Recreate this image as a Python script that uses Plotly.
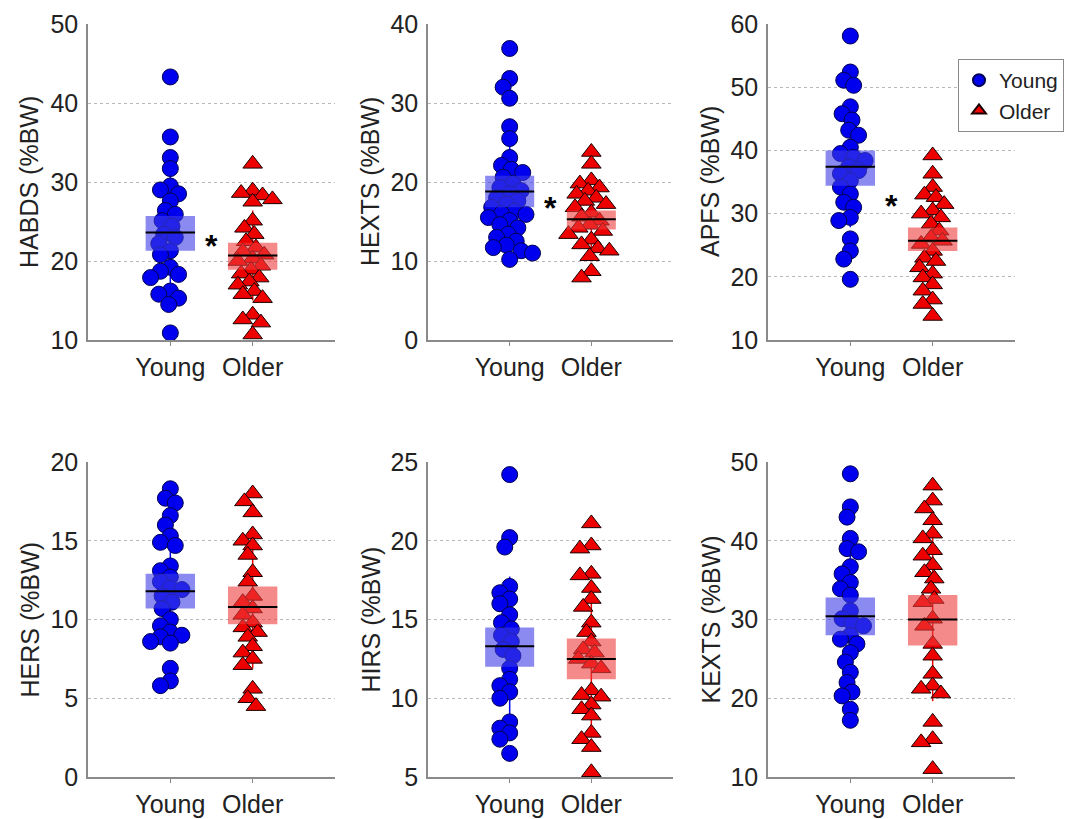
import numpy as np
import plotly.graph_objects as go

# ---------------- data ----------------
categories = ["Young", "Older"]
panel_titles = ["HABDS (%BW)", "HEXTS (%BW)", "APFS (%BW)", "HERS (%BW)", "HIRS (%BW)", "KEXTS (%BW)"]
y_ranges = [[10, 50], [0, 40], [10, 60], [0, 20], [5, 25], [10, 50]]
y_dticks = [10, 10, 10, 5, 5, 10]

habds_young = [43.3, 35.7, 33.1, 31.7, 29.5, 29.0, 28.5, 27.6, 26.4, 25.9, 25.1, 24.4, 23.4, 23.0,
               22.2, 21.3, 20.8, 19.2, 18.7, 18.3, 17.9, 16.2, 15.8, 15.3, 14.5, 10.9]
habds_older = [32.3, 28.9, 28.6, 28.3, 27.8, 27.5, 25.1, 24.2, 23.4, 22.5, 21.7, 21.2, 20.8, 20.3,
               20.0, 19.4, 18.9, 18.4, 17.9, 17.4, 17.0, 16.2, 15.8, 15.3, 13.2, 12.6, 12.2, 10.7]
hexts_young = [36.9, 33.1, 32.0, 30.6, 27.0, 25.5, 23.1, 22.1, 21.6, 21.2, 20.6, 19.8, 19.3, 18.9,
               18.5, 18.0, 17.6, 17.2, 16.8, 16.3, 16.0, 15.9, 15.5, 15.1, 14.6, 14.2, 13.4, 13.0,
               12.5, 12.0, 11.7, 11.3, 11.0, 10.2]
hexts_older = [23.8, 22.3, 20.2, 19.8, 19.3, 18.9, 18.5, 18.0, 17.6, 17.2, 16.8, 16.1, 15.6, 15.1,
               14.6, 14.2, 13.8, 13.4, 12.7, 12.1, 11.6, 11.3, 10.6, 8.7, 7.9]
apfs_young = [58.1, 52.4, 51.1, 50.3, 46.9, 45.8, 44.8, 43.2, 42.4, 40.5, 39.5, 38.9, 38.4, 37.4,
              36.8, 36.3, 35.2, 34.2, 33.1, 31.8, 31.0, 29.4, 28.9, 26.0, 24.1, 22.8, 19.6]
apfs_older = [39.2, 36.3, 34.2, 33.0, 32.6, 31.5, 30.5, 30.0, 29.4, 28.4, 27.3, 26.2, 25.7, 25.2,
              24.1, 23.0, 22.5, 21.5, 20.5, 19.9, 18.8, 17.8, 16.4, 15.7, 13.8]
hers_young = [18.3, 17.7, 17.4, 16.6, 16.0, 15.3, 14.9, 14.7, 13.4, 13.1, 12.7, 12.4, 12.0, 11.9,
              11.5, 11.1, 10.7, 10.0, 9.6, 9.2, 9.0, 8.9, 8.6, 8.5, 6.9, 6.1, 5.8]
hers_older = [18.0, 17.5, 16.8, 15.4, 15.0, 14.7, 14.1, 13.0, 12.4, 11.5, 11.1, 10.7, 10.3, 9.8,
              9.5, 9.2, 8.9, 8.3, 7.9, 7.5, 7.1, 5.6, 5.0, 4.5]
hirs_young = [24.2, 20.2, 19.6, 17.1, 16.7, 16.3, 16.0, 15.3, 14.8, 14.4, 14.0, 13.6, 13.1, 12.7,
              11.9, 11.2, 10.8, 10.4, 10.0, 8.5, 8.1, 7.8, 7.4, 6.5]
hirs_older = [21.1, 19.7, 19.5, 17.9, 17.8, 17.0, 16.3, 15.8, 14.8, 14.2, 13.6, 13.1, 12.9, 12.5,
              12.2, 11.9, 10.5, 10.2, 10.1, 9.6, 9.3, 8.9, 7.8, 7.4, 6.9, 5.3]
kexts_young = [48.5, 44.3, 43.0, 40.3, 39.0, 38.6, 36.7, 35.8, 34.7, 33.9, 33.1, 31.1, 30.1, 29.6,
               29.2, 28.0, 27.5, 26.9, 25.8, 24.6, 23.3, 22.0, 20.8, 20.3, 18.6, 17.2]
kexts_older = [47.0, 45.1, 44.1, 42.6, 40.9, 40.3, 38.8, 38.1, 36.9, 36.0, 35.2, 33.9, 32.6, 32.2,
               30.1, 29.2, 26.9, 25.4, 23.1, 21.6, 21.2, 20.6, 17.0, 14.8, 14.4, 11.0]

# group summary: mean, lower and upper edge of shaded box
young_mean = [23.6, 18.8, 37.4, 11.8, 13.3, 30.4]
young_low = [21.3, 16.8, 34.4, 10.7, 12.0, 28.0]
young_high = [25.7, 20.8, 40.0, 12.9, 14.5, 32.8]
older_mean = [20.7, 15.3, 25.7, 10.8, 12.5, 30.0]
older_low = [18.9, 14.0, 24.1, 9.7, 11.2, 26.7]
older_high = [22.3, 16.4, 27.8, 12.1, 13.8, 33.1]
significant = [True, True, True, False, False, False]
star_level = [22.1, 17.0, 31.5, None, None, None]

young_data = [habds_young, hexts_young, apfs_young, hers_young, hirs_young, kexts_young]
older_data = [habds_older, hexts_older, apfs_older, hers_older, hirs_older, kexts_older]

# ---------------- layout geometry ----------------
W, H = 1084, 819
col_px = [(88, 335), (428, 673), (768, 1015)]
row_px = [(24, 340), (462, 777)]
ytitle_px = [29, 370, 710]

BLUE = "#0000ee"
RED = "#ee0000"
BOX_BLUE = "rgba(60,60,230,0.6)"
BOX_RED = "rgba(238,60,60,0.6)"
FONT = "Liberation Sans, Arial, sans-serif"


def swarm(vals, ypx, xpx, d=10.5, maxoff=0.3):
    vals = np.asarray(vals, float)
    order = np.argsort(-vals)
    cands = sorted(np.round(np.arange(-maxoff, maxoff + 1e-9, 0.02), 3), key=lambda c: (abs(c), c))
    offs = np.zeros(len(vals))
    placed = []
    for i in order:
        best, bestscore = 0.0, -1
        for c in cands:
            if placed:
                md = min(np.hypot((c - oc) * xpx, (vals[i] - ov) * ypx) for oc, ov in placed)
            else:
                md = 1e9
            if md >= d:
                best = c
                break
            if md > bestscore:
                bestscore, best = md, c
        offs[i] = best
        placed.append((best, vals[i]))
    return offs


fig = go.Figure()
layout = dict(width=W, height=H, margin=dict(l=0, r=0, t=0, b=0, autoexpand=False), plot_bgcolor="white",
              paper_bgcolor="white", font=dict(family=FONT, color="#222"), shapes=[], annotations=[])

for p in range(6):
    r, c = divmod(p, 3)
    ax = "" if p == 0 else str(p + 1)
    x0, x1 = col_px[c]
    yt, yb = row_px[r]
    xdom = [x0 / W, x1 / W]
    ydom = [1 - yb / H, 1 - yt / H]
    yr = y_ranges[p]
    ypx = (yb - yt) / (yr[1] - yr[0])
    xpx = (x1 - x0) / 3.0

    layout["xaxis" + ax] = dict(domain=xdom, anchor="y" + ax, range=[0, 3], tickvals=[1, 2],
                                ticktext=categories, showline=True, linecolor="#8a8a8a", linewidth=1.5,
                                ticks="outside", ticklen=4, tickcolor="#8a8a8a", showgrid=False,
                                zeroline=False, automargin=False,
                                tickfont=dict(size=25, family=FONT, color="#222"))
    layout["yaxis" + ax] = dict(domain=ydom, anchor="x" + ax, range=yr, dtick=y_dticks[p],
                                tick0=0, showline=True, linecolor="#8a8a8a", linewidth=1.5,
                                showgrid=True, gridcolor="#b8b8b8", griddash="dot", gridwidth=1,
                                zeroline=False, ticks="", ticklabelstandoff=3, automargin=False,
                                tickfont=dict(size=25, family=FONT, color="#222"))
    layout["annotations"].append(dict(text=panel_titles[p], x=ytitle_px[c] / W, y=(ydom[0] + ydom[1]) / 2,
                                      xref="paper", yref="paper", textangle=-90, showarrow=False,
                                      xanchor="center", yanchor="middle",
                                      font=dict(size=25, family=FONT, color="#222")))

    groups = [(young_data[p], 1, BLUE, "circle", "Young", young_mean[p], young_low[p], young_high[p], BOX_BLUE),
              (older_data[p], 2, RED, "triangle-up", "Older", older_mean[p], older_low[p], older_high[p], BOX_RED)]
    for vals, cx, col, sym, name, m, lo, hi, boxcol in groups:
        sd = float(np.std(vals, ddof=1))
        fig.add_trace(go.Scatter(x=[cx, cx], y=[m - sd, m + sd], mode="lines",
                                 line=dict(color=col, width=1.5), showlegend=False, hoverinfo="skip",
                                 xaxis="x" + ax, yaxis="y" + ax))
        offs = swarm(vals, ypx, xpx)
        fig.add_trace(go.Scatter(x=cx + offs, y=vals, mode="markers", name=name,
                                 marker=dict(symbol=sym, size=16 if sym == "circle" else 17, color=col,
                                             line=dict(color="#1a0000" if sym != "circle" else "#000050", width=1)),
                                 showlegend=(p == 0),
                                 xaxis="x" + ax, yaxis="y" + ax))
        xr = "x" + ax
        yr_ = "y" + ax
        layout["shapes"].append(dict(type="rect", xref=xr, yref=yr_, x0=cx - 0.3, x1=cx + 0.3, y0=lo, y1=hi,
                                     fillcolor=boxcol, line=dict(width=0), layer="above"))
        layout["shapes"].append(dict(type="line", xref=xr, yref=yr_, x0=cx - 0.3, x1=cx + 0.3, y0=m, y1=m,
                                     line=dict(color="black", width=2), layer="above"))
    if significant[p]:
        layout["annotations"].append(dict(text="<b>*</b>", x=1.5, y=star_level[p], xref="x" + ax, yref="y" + ax,
                                          showarrow=False, xanchor="center", yanchor="middle", yshift=-2,
                                          font=dict(size=32, family=FONT, color="black")))

layout["legend"] = dict(x=958 / W, y=1 - 59 / H, xanchor="left", yanchor="top", bordercolor="#8a8a8a",
                        borderwidth=1, bgcolor="white", font=dict(size=21, family=FONT, color="#222"),
                        itemsizing="constant", tracegroupgap=0)
fig.update_layout(**layout)
fig.write_html("out.html", config={"displayModeBar": False},
               post_script="document.body.style.margin='0px';")
